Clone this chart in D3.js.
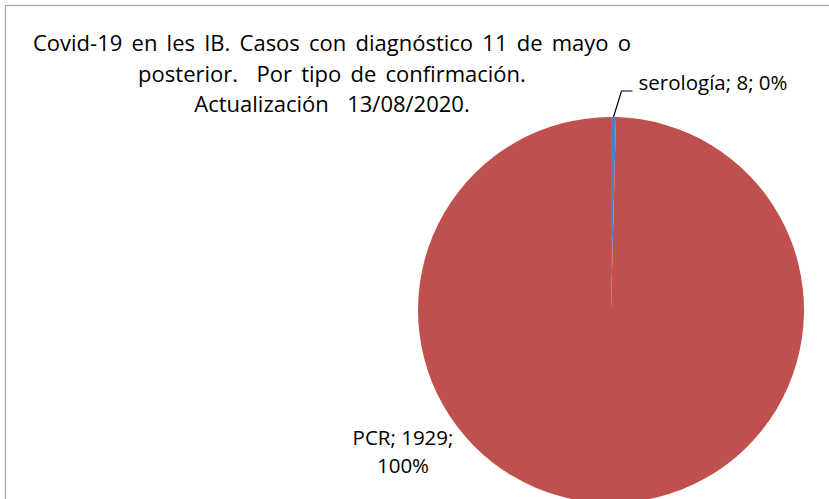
<!DOCTYPE html>
<html>
<head>
<meta charset="utf-8">
<script src="https://cdn.jsdelivr.net/npm/d3@7"></script>
<style>
  body { margin: 0; background: #fff; }
  svg { display: block; font-family: "Open Sans", sans-serif; }
  text { white-space: pre; }
  .title { word-spacing: 3.5px; }
</style>
</head>
<body>
<svg id="chart" width="829" height="499"></svg>
<script>
const titleLines = [
  'Covid-19 en les IB. Casos con diagnóstico 11 de mayo o',
  'posterior.  Por tipo de confirmación.',
  'Actualización  13/08/2020.'
];
const categories = ['serología', 'PCR'];
const values = [8, 1929];
const colors = ['#4f81bd', '#c0504d'];

const svg = d3.select('#chart');
const W = 829, H = 499;
const cx = 611, cy = 310, r = 193;

// chart area border (right and bottom fall outside the picture)
svg.append('rect')
  .attr('x', 5.5).attr('y', 5.5)
  .attr('width', W + 10).attr('height', H + 10)
  .attr('fill', '#fff')
  .attr('stroke', '#a6a6a6')
  .attr('stroke-width', 1.2);

// title
svg.append('g').selectAll('text')
  .data(titleLines)
  .join('text')
  .attr('class', 'title')
  .attr('x', 332)
  .attr('y', (d, i) => 51 + i * 30.5)
  .attr('text-anchor', 'middle')
  .attr('font-size', 22)
  .attr('fill', '#000')
  .text(d => d);

const data = categories.map((c, i) => ({ name: c, value: values[i], color: colors[i] }));
const total = d3.sum(values);
const pie = d3.pie().sort(null).value(d => d.value);
const arc = d3.arc().innerRadius(0).outerRadius(r);
const arcs = pie(data);

const g = svg.append('g').attr('transform', `translate(${cx},${cy})`);
g.selectAll('path')
  .data(arcs)
  .join('path')
  .attr('d', arc)
  .attr('fill', d => d.data.color);

const pct = d => Math.round(d.value / total * 100) + '%';

// serología label with leader line
const small = arcs[0];
const mid = (small.startAngle + small.endAngle) / 2;
const p0 = [Math.sin(mid) * r, -Math.cos(mid) * r];
g.append('path')
  .attr('d', d3.line()([p0, [p0[0] + 8, -219], [p0[0] + 19, -219]]))
  .attr('fill', 'none')
  .attr('stroke', '#000')
  .attr('stroke-width', 1.2);
g.append('text')
  .attr('x', p0[0] + 25)
  .attr('y', -220)
  .attr('font-size', 20.5)
  .text(`${small.data.name}; ${small.data.value}; ${pct(small.data)}`);

// PCR label
const big = arcs[1];
const lbl = g.append('text')
  .attr('text-anchor', 'middle')
  .attr('font-size', 20.5);
lbl.append('tspan').attr('x', -208).attr('y', 135)
  .text(`${big.data.name}; ${big.data.value};`);
lbl.append('tspan').attr('x', -208).attr('y', 163)
  .text(pct(big.data));
</script>
</body>
</html>
